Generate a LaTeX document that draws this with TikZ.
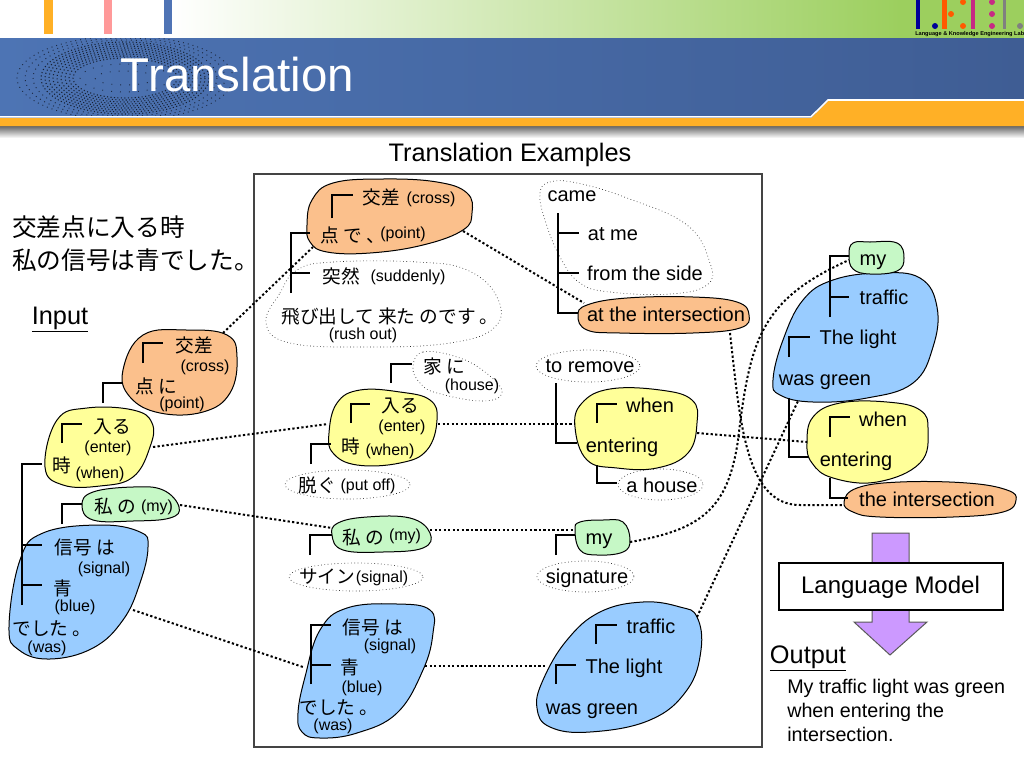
\documentclass[tikz,border=0pt]{standalone}
\usepackage{xcolor}
\usepackage{fontspec}
\setmainfont{Liberation Sans}
\newfontfamily\jpfont{Noto Sans CJK JP}
\definecolor{barorange}{HTML}{FFB026}
\definecolor{barpink}{HTML}{FF9999}
\definecolor{barblue}{HTML}{4F74B5}
\definecolor{topgreen}{HTML}{9CCF5E}
\definecolor{bandleft}{HTML}{4D74B4}
\definecolor{bandright}{HTML}{3F5D94}
\definecolor{blobfrom}{HTML}{FBC08C}
\definecolor{blobwhen}{HTML}{FFFF99}
\definecolor{blobmy}{HTML}{C6F8C6}
\definecolor{blobsky}{HTML}{99CCFF}
\definecolor{arrowviolet}{HTML}{CC99FF}
\definecolor{framegray}{HTML}{444444}
\tikzset{
  orangeblob/.style={draw=black,line width=0.75pt,fill=blobfrom},
  yellowblob/.style={draw=black,line width=0.75pt,fill=blobwhen},
  greenblob/.style={draw=black,line width=0.75pt,fill=blobmy},
  blueblob/.style={draw=black,line width=0.75pt,fill=blobsky},
  dotblob/.style={draw=black!85,line width=0.5pt,dotted},
  treeline/.style={draw=black,line width=1.8pt},
  linkline/.style={draw=black,line width=1.5pt,dash pattern=on 1.7pt off 1.7pt},
  word/.style={inner sep=0pt,text height=12pt,text depth=3pt,font=\fontsize{15}{18}\selectfont},
  gloss/.style={inner sep=0pt,text height=10pt,text depth=2.5pt,font=\fontsize{12}{14}\selectfont},
  jword/.style={inner sep=0pt,font=\jpfont\fontsize{14}{16}\selectfont},
  bigword/.style={inner sep=0pt,text height=16pt,text depth=4pt,font=\fontsize{19}{22}\selectfont},
}
\begin{document}
\begin{tikzpicture}[x=0.75pt,y=-0.75pt]
  \useasboundingbox (0,0) rectangle (1024,768);
  \fill[white] (0,0) rectangle (1024,768);
  \shade[left color=white,right color=topgreen] (170,0) rectangle (900,38);
  \fill[topgreen] (900,0) rectangle (1024,38);
  \fill[barorange] (44,0) rectangle (53,34);
  \fill[barpink] (104,0) rectangle (112,34);
  \fill[barblue] (164,0) rectangle (172,34);
  \fill[blue!60!black] (916,0) rectangle (920,29);
  \fill[blue!60!black] (935,26) circle (3);
  \fill[orange!70!red] (942,0) rectangle (947,29);
  \fill[orange!70!red] (951,14) circle (3);
  \fill[orange!70!red] (963,2) circle (3);
  \fill[orange!70!red] (963,26) circle (3);
  \fill[magenta!80!black] (971,0) rectangle (975,29);
  \fill[magenta!80!black] (992,2) circle (3);
  \fill[magenta!80!black] (992,14) circle (3);
  \fill[magenta!80!black] (992,26) circle (3);
  \fill[gray] (1003,0) rectangle (1006,29);
  \fill[gray] (1020,26) circle (3);
  \begin{scope}
    \clip (0,0) rectangle (1024,38);
    \node[anchor=west,inner sep=0pt,font=\bfseries\fontsize{4.2}{5}\selectfont] (lablogo) at (915,34.5) {Language \& Knowledge Engineering Lab};
  \end{scope}
  \shade[left color=bandleft,right color=bandright] (0,38) rectangle (1024,117);
  \begin{scope}
    \clip (0,38) rectangle (1024,116);
    \foreach \rx/\ry in {108/42,100/40,92/38}
      \draw[bandright!45!black,line width=0.7pt,dash pattern=on 0.7pt off 3pt] (125,78) ellipse ({\rx} and {\ry});
    \foreach \rx/\ry in {84/36,80/34,76/32,72/30,68/28,64/26,60/24,56/22,52/20}
      \draw[bandright!35!black,line width=0.8pt,dash pattern=on 0.8pt off 1.8pt] (125,78) ellipse ({\rx} and {\ry});
    \foreach \rx/\ry in {45/14,30/7}
      \draw[bandright!45!black,line width=0.7pt,dash pattern=on 0.7pt off 6pt] (125,78) ellipse ({\rx} and {\ry});
  \end{scope}
  \shade[top color=black!60,bottom color=white] (0,126) rectangle (1024,138);
  \fill[barorange] (0,118) -- (811,118) -- (828,101) -- (1024,101) -- (1024,126) -- (0,126) -- cycle;
  \draw[white,line width=1.2pt] (0,116.8) -- (811,116.8) -- (828,100) -- (1024,100);
  \node[inner sep=0pt,text=white,font=\fontsize{35.6}{40}\selectfont] (title) at (237.5,75) {Translation};

  \draw[framegray,line width=1.2pt] (254,174) rectangle (762,747);
  \node[bigword,fill=white,minimum height=24pt,minimum width=186pt] (examples) at (510,153.5) {Translation Examples};

  \draw[orangeblob] plot[smooth cycle,tension=0.7] coordinates {(123,370) (143,335) (187,330) (227,335) (237,357) (230,393) (203,412) (160,413) (130,397)};
  \draw[yellowblob] plot[smooth cycle,tension=0.7] coordinates {(45,467) (57,420) (87,408) (133,410) (152,423) (150,447) (133,477) (100,486) (63,485)};
  \draw[greenblob] plot[smooth cycle,tension=0.7] coordinates {(82,505) (93,492) (133,487) (163,490) (179,507) (170,518) (133,521) (93,520)};
  \draw[blueblob] plot[smooth cycle,tension=0.7] coordinates {(9,627) (20,560) (43,533) (100,525) (140,532) (148,547) (140,583) (123,620) (93,648) (50,659) (19,650)};

  \draw[orangeblob] plot[smooth cycle,tension=0.7] coordinates {(307,225) (312,200) (333,183) (383,179) (437,182) (467,193) (472,213) (463,230) (423,245) (370,253) (327,252) (310,242)};
  \draw[dotblob] plot[smooth cycle,tension=0.7] coordinates {(266,323) (280,293) (297,270) (333,262) (417,262) (467,270) (497,297) (495,327) (450,343) (367,347) (290,343)};
  \draw[dotblob] plot[smooth cycle,tension=0.7] coordinates {(413,367) (423,352) (457,357) (485,372) (502,392) (483,401) (437,393) (420,383)};
  \draw[yellowblob] plot[smooth cycle,tension=0.7] coordinates {(329,433) (337,403) (360,390) (400,392) (430,400) (437,420) (427,450) (400,463) (357,465) (333,453)};
  \draw[dotblob] (347.5,484.5) ellipse (62.5 and 14.5);
  \draw[greenblob] plot[smooth cycle,tension=0.7] coordinates {(332,535) (338,523) (367,517) (410,518) (430,533) (423,548) (383,552) (343,550)};
  \draw[dotblob] (356,577) ellipse (67 and 14);
  \draw[blueblob] plot[smooth cycle,tension=0.7] coordinates {(298,713) (305,677) (320,630) (347,608) (397,604) (430,610) (433,633) (423,670) (397,713) (357,733) (320,738) (302,732)};

  \draw[dotblob] plot[smooth cycle,tension=0.7] coordinates {(540,193) (550,182) (577,183) (627,198) (687,225) (710,263) (707,285) (670,294) (610,292) (580,283) (560,257) (545,220)};
  \draw[orangeblob] plot[smooth cycle,tension=0.7] coordinates {(578,316) (587,305) (627,298) (693,297) (737,302) (749,315) (740,328) (693,333) (620,333) (587,330)};
  \draw[dotblob] (588,366) ellipse (52 and 16);
  \draw[yellowblob] plot[smooth cycle,tension=0.7] coordinates {(575,427) (582,403) (610,389) (660,390) (692,400) (697,423) (688,453) (657,468) (617,468) (587,460)};
  \draw[dotblob] (660.5,484.5) ellipse (42.5 and 15.5);
  \draw[greenblob] plot[smooth cycle,tension=0.7] coordinates {(575,530) (580,522) (603,520) (623,522) (630,540) (623,552) (597,555) (580,550)};
  \draw[dotblob] (585.5,576.5) ellipse (48.5 and 15.5);
  \draw[blueblob] plot[smooth cycle,tension=0.7] coordinates {(537,708) (543,680) (567,640) (600,612) (643,602) (680,607) (697,617) (701,650) (687,690) (650,720) (590,732) (550,727)};

  \draw[blueblob] plot[smooth cycle,tension=0.7] coordinates {(773,380) (783,340) (803,300) (833,280) (880,273) (920,278) (937,307) (933,347) (913,383) (867,398) (813,402) (780,395)};
  \draw[greenblob] plot[smooth cycle,tension=0.7] coordinates {(849,255) (853,243) (870,242) (897,243) (904,258) (897,271) (870,274) (853,269)};
  \draw[yellowblob] plot[smooth cycle,tension=0.7] coordinates {(807,443) (813,417) (840,403) (887,402) (920,410) (928,430) (920,463) (877,482) (833,478) (812,463)};
  \draw[orangeblob] plot[smooth cycle,tension=0.7] coordinates {(844,502) (857,488) (900,482) (967,483) (1007,490) (1016,500) (1003,512) (953,517) (880,517) (853,512)};

  \coordinate (crossA) at (223,333);
  \coordinate (crossB) at (313,247);
  \coordinate (crossC) at (463,231);
  \coordinate (crossD) at (584,303);
  \coordinate (crossE) at (730,333);
  \coordinate (crossF) at (844,505);
  \coordinate (enterA) at (153,447);
  \coordinate (enterB) at (328,424);
  \coordinate (enterC) at (438,424);
  \coordinate (enterD) at (575,424);
  \coordinate (enterE) at (697,433);
  \coordinate (enterF) at (807,442);
  \coordinate (myA) at (180,505);
  \coordinate (myB) at (332,528);
  \coordinate (myC) at (430,530);
  \coordinate (myD) at (575,530);
  \coordinate (myE) at (630,542);
  \coordinate (myF) at (849,260);
  \coordinate (signalA) at (133,610);
  \coordinate (signalB) at (303,667);
  \coordinate (signalC) at (425,666);
  \coordinate (signalD) at (547,666);
  \coordinate (signalE) at (697,617);
  \coordinate (signalF) at (798,401);
  \draw[linkline] (crossA) -- (crossB);
  \draw[linkline] (crossC) -- (crossD);
  \draw[linkline] (crossE) .. controls (740,420) and (745,505) .. (800,505) -- (crossF);
  \draw[linkline] (enterA) -- (enterB);
  \draw[linkline] (enterC) -- (enterD);
  \draw[linkline] (enterE) -- (enterF);
  \draw[linkline] (myA) -- (myB);
  \draw[linkline] (myC) -- (myD);
  \draw[linkline] (myE) .. controls (700,530) and (728,510) .. (738,440) .. controls (750,340) and (760,300) .. (myF);
  \draw[linkline] (signalA) -- (signalB);
  \draw[linkline] (signalC) -- (signalD);
  \draw[linkline] (signalE) -- (signalF);

  \coordinate (t1a) at (143,363); \coordinate (t1b) at (163,343);
  \coordinate (t2a) at (103,403); \coordinate (t2b) at (123,383);
  \coordinate (t3a) at (62,443); \coordinate (t3b) at (82,424);
  \coordinate (t4a) at (22,605); \coordinate (t4b) at (42,464);
  \coordinate (t5a) at (22,545); \coordinate (t5b) at (42,545);
  \coordinate (t6a) at (22,585); \coordinate (t6b) at (42,585);
  \coordinate (t7a) at (62,524); \coordinate (t7b) at (82,504);
  \draw[treeline] (t1a) |- (t1b);
  \draw[treeline] (t2a) |- (t2b);
  \draw[treeline] (t3a) |- (t3b);
  \draw[treeline] (t4a) |- (t4b);
  \draw[treeline] (t5a) -- (t5b);
  \draw[treeline] (t6a) -- (t6b);
  \draw[treeline] (t7a) |- (t7b);

  \coordinate (m1a) at (332,218); \coordinate (m1b) at (353,195);
  \coordinate (m2a) at (291,293); \coordinate (m2b) at (310,233);
  \coordinate (m3a) at (291,273); \coordinate (m3b) at (310,273);
  \coordinate (m4a) at (391,383); \coordinate (m4b) at (412,364);
  \coordinate (m5a) at (351,423); \coordinate (m5b) at (370,404);
  \coordinate (m6a) at (311,464); \coordinate (m6b) at (331,444);
  \coordinate (m7a) at (310,555); \coordinate (m7b) at (332,535);
  \coordinate (m8a) at (311,684); \coordinate (m8b) at (331,625);
  \coordinate (m9a) at (311,665); \coordinate (m9b) at (331,665);
  \draw[treeline] (m1a) |- (m1b);
  \draw[treeline] (m2a) |- (m2b);
  \draw[treeline] (m3a) -- (m3b);
  \draw[treeline] (m4a) |- (m4b);
  \draw[treeline] (m5a) |- (m5b);
  \draw[treeline] (m6a) |- (m6b);
  \draw[treeline] (m7a) |- (m7b);
  \draw[treeline] (m8a) |- (m8b);
  \draw[treeline] (m9a) -- (m9b);

  \coordinate (e1a) at (558,213); \coordinate (e1b) at (578,313);
  \coordinate (e2a) at (558,233); \coordinate (e2b) at (579,233);
  \coordinate (e3a) at (558,273); \coordinate (e3b) at (579,273);
  \coordinate (e4a) at (556,383); \coordinate (e4b) at (577,443);
  \coordinate (e5a) at (597,423); \coordinate (e5b) at (617,404);
  \coordinate (e6a) at (597,465); \coordinate (e6b) at (617,483);
  \coordinate (e7a) at (556,555); \coordinate (e7b) at (575,535);
  \coordinate (e8a) at (596,644); \coordinate (e8b) at (617,625);
  \coordinate (e9a) at (556,684); \coordinate (e9b) at (576,665);
  \draw[treeline] (e1a) |- (e1b);
  \draw[treeline] (e2a) -- (e2b);
  \draw[treeline] (e3a) -- (e3b);
  \draw[treeline] (e4a) |- (e4b);
  \draw[treeline] (e5a) |- (e5b);
  \draw[treeline] (e6a) |- (e6b);
  \draw[treeline] (e7a) |- (e7b);
  \draw[treeline] (e8a) |- (e8b);
  \draw[treeline] (e9a) |- (e9b);

  \coordinate (r1a) at (830,317); \coordinate (r1b) at (849,256);
  \coordinate (r2a) at (830,297); \coordinate (r2b) at (849,297);
  \coordinate (r3a) at (789,357); \coordinate (r3b) at (810,337);
  \coordinate (r4a) at (789,398); \coordinate (r4b) at (809,457);
  \coordinate (r5a) at (830,437); \coordinate (r5b) at (850,417);
  \coordinate (r6a) at (830,478); \coordinate (r6b) at (848,498);
  \draw[treeline] (r1a) |- (r1b);
  \draw[treeline] (r2a) -- (r2b);
  \draw[treeline] (r3a) |- (r3b);
  \draw[treeline] (r4a) |- (r4b);
  \draw[treeline] (r5a) |- (r5b);
  \draw[treeline] (r6a) |- (r6b);

  \node[inner sep=0pt,anchor=west,font=\jpfont\fontsize{18.5}{22}\selectfont] (sourceA) at (12,227) {交差点に入る時};
  \node[inner sep=0pt,anchor=west,font=\jpfont\fontsize{18.5}{22}\selectfont] (sourceB) at (12,260) {私の信号は青でした。};
  \node[bigword] (input) at (60,316) {\underline{Input}};

  \node[jword] (lcross) at (194,345) {交差};
  \node[gloss] (lcrossg) at (205,366) {(cross)};
  \node[jword] (lpoint) at (156,386) {点 に};
  \node[gloss] (lpointg) at (182,403) {(point)};
  \node[jword] (lenter) at (112,427) {入る};
  \node[gloss] (lenterg) at (108,447) {(enter)};
  \node[jword] (lwhen) at (62,465) {時};
  \node[gloss] (lwheng) at (100,473) {(when)};
  \node[jword] (lmy) at (115,506) {私 の};
  \node[gloss] (lmyg) at (157,506) {(my)};
  \node[jword] (lsignal) at (85,547) {信号 は};
  \node[gloss] (lsignalg) at (104,568) {(signal)};
  \node[jword] (lblue) at (63,588) {青};
  \node[gloss] (lblueg) at (75,606) {(blue)};
  \node[jword] (lwas) at (52,629) {でした 。};
  \node[gloss] (lwasg) at (47,647) {(was)};

  \node[jword] (mcross) at (381,197) {交差};
  \node[gloss] (mcrossg) at (431,198) {(cross)};
  \node[jword] (mpoint) at (353,235) {点 で 、};
  \node[gloss] (mpointg) at (403,233) {(point)};
  \node[jword] (msudden) at (341,276) {突然};
  \node[gloss] (msuddeng) at (408,276) {(suddenly)};
  \node[jword] (mrush) at (390,316) {飛び出して 来た のです 。};
  \node[gloss] (mrushg) at (363,334) {(rush out)};
  \node[jword] (mhouse) at (444,366) {家 に};
  \node[gloss] (mhouseg) at (472,385) {(house)};
  \node[jword] (menter) at (400,406) {入る};
  \node[gloss] (menterg) at (402,426) {(enter)};
  \node[jword] (mwhen) at (351,446) {時};
  \node[gloss] (mwheng) at (390,450) {(when)};
  \node[jword] (mput) at (317,485) {脱ぐ};
  \node[gloss] (mputg) at (368,485) {(put off)};
  \node[jword] (mmy) at (363,537) {私 の};
  \node[gloss] (mmyg) at (405,535) {(my)};
  \node[jword] (msign) at (327,577) {サイン};
  \node[gloss] (msigng) at (382,577) {(signal)};
  \node[jword] (msignal) at (373,627) {信号 は};
  \node[gloss] (msignalg) at (390,645) {(signal)};
  \node[jword] (mblue) at (350,667) {青};
  \node[gloss] (mblueg) at (362,687) {(blue)};
  \node[jword] (mwas) at (339,708) {でした 。};
  \node[gloss] (mwasg) at (333,725) {(was)};

  \node[word] (ecame) at (572,195) {came};
  \node[word] (eme) at (613,234) {at me};
  \node[word] (eside) at (645,274) {from the side};
  \node[word] (eat) at (666,315) {at the intersection};
  \node[word] (eremove) at (590,366) {to remove};
  \node[word] (ewhen) at (650,406) {when};
  \node[word] (eenter) at (622,446) {entering};
  \node[word] (ehouse) at (662,486) {a house};
  \node[word] (emy) at (599,538) {my};
  \node[word] (esign) at (587,577) {signature};
  \node[word] (etraffic) at (651,627) {traffic};
  \node[word] (elight) at (624,667) {The light};
  \node[word] (egreen) at (592,708) {was green};

  \node[word] (rmy) at (873,259) {my};
  \node[word] (rtraffic) at (884,298) {traffic};
  \node[word] (rlight) at (858,338) {The light};
  \node[word] (rgreen) at (825,379) {was green};
  \node[word] (rwhen) at (883,420) {when};
  \node[word] (renter) at (856,460) {entering};
  \node[word] (rthe) at (927,500) {the intersection};

  \draw[fill=arrowviolet,draw=black!65,line width=0.75pt] (872,533) -- (909,533) -- (909,622) -- (927,622) -- (890,655) -- (854,622) -- (872,622) -- cycle;
  \node[draw=black,line width=1.5pt,fill=white,inner sep=0pt,text height=14pt,text depth=3pt,minimum width=168pt,minimum height=35pt,font=\fontsize{18}{21}\selectfont] (model) at (890.5,586.5) {Language Model};
  \node[bigword] (output) at (808,655) {\underline{Output}};
  \node[inner sep=0pt,anchor=north west,align=left,font=\fontsize{14.8}{18}\selectfont] (result) at (787,679) {My traffic light was green\\when entering the\\intersection.};
\end{tikzpicture}
\end{document}
